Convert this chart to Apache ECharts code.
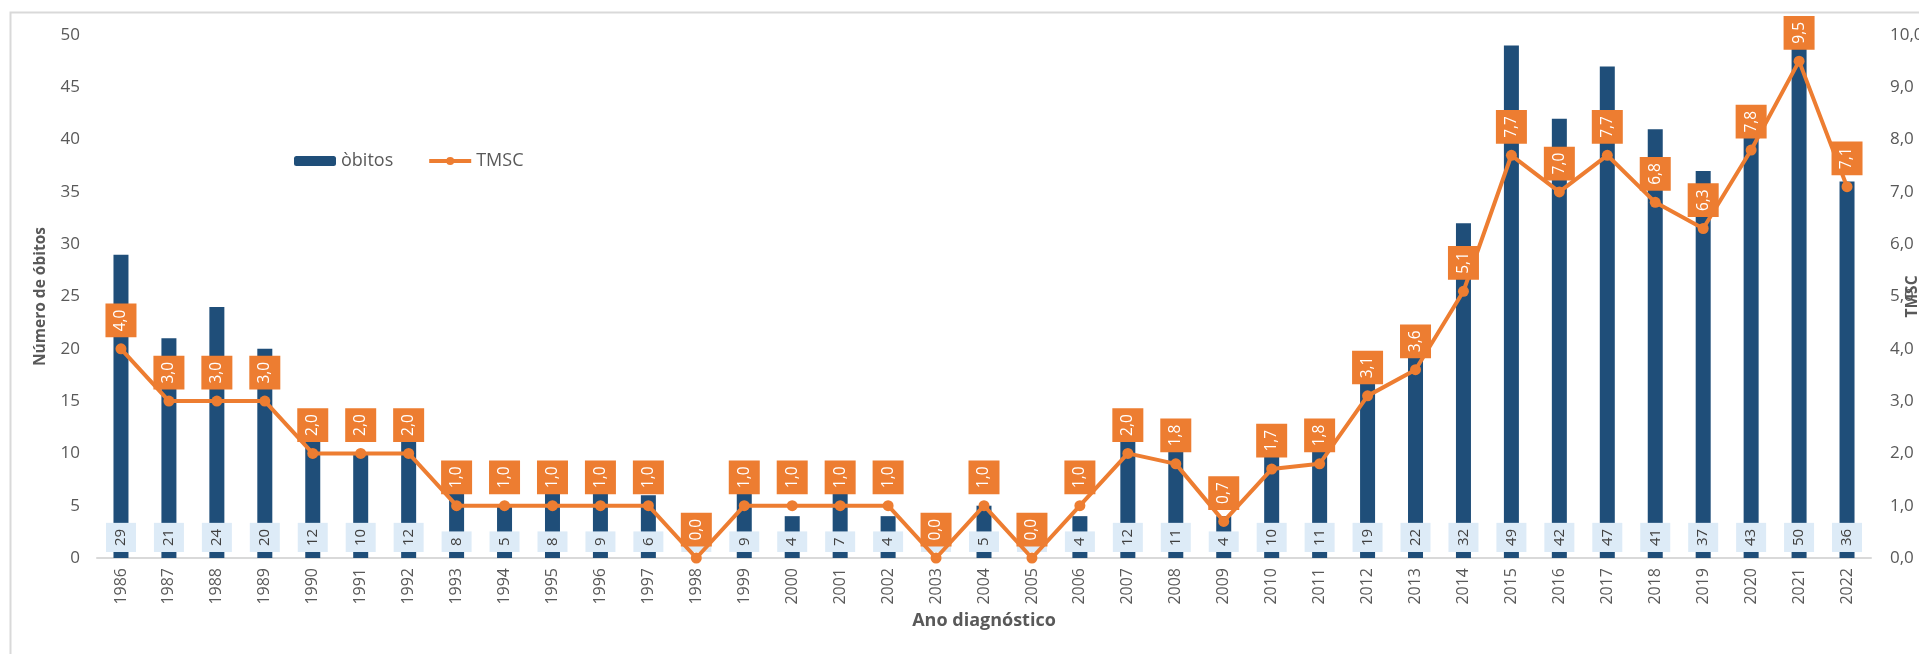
<!DOCTYPE html>
<html>
<head>
<meta charset="utf-8">
<script src="https://cdn.jsdelivr.net/npm/echarts@6/dist/echarts.min.js"></script>
<style>
html,body{margin:0;padding:0;background:#fff;overflow:hidden;}
#chart{width:1919px;height:654px;}
</style>
</head>
<body>
<div id="chart"></div>
<script>
const years = ['1986','1987','1988','1989','1990','1991','1992','1993','1994','1995','1996','1997','1998','1999','2000','2001','2002','2003','2004','2005','2006','2007','2008','2009','2010','2011','2012','2013','2014','2015','2016','2017','2018','2019','2020','2021','2022'];
const obitos = [29,21,24,20,12,10,12,8,5,8,9,6,0,9,4,7,4,0,5,0,4,12,11,4,10,11,19,22,32,49,42,47,41,37,43,50,36];
const tmsc = [4.0,3.0,3.0,3.0,2.0,2.0,2.0,1.0,1.0,1.0,1.0,1.0,0.0,1.0,1.0,1.0,1.0,0.0,1.0,0.0,1.0,2.0,1.8,0.7,1.7,1.8,3.1,3.6,5.1,7.7,7.0,7.7,6.8,6.3,7.8,9.5,7.1];
const leftTicks = {min:0, max:50, interval:5};
const rightTicks = {min:0, max:10, interval:1};

const FONT = '"Open Sans", "Noto Sans", sans-serif';
const fmt = v => Number(v).toFixed(1).replace('.', ',');

const chart = echarts.init(document.getElementById('chart'));
chart.setOption({
  backgroundColor: '#fff',
  animation: false,
  textStyle: {fontFamily: FONT},
  graphic: [{
    type: 'rect', left: 8, top: 10, z: -1,
    shape: {width: 2000, height: 1000},
    style: {fill: 'none', stroke: '#D9D9D9', lineWidth: 2}
  }],
  grid: {left: 97, right: 48, top: 35, bottom: 96, containLabel: false, outerBoundsMode: 'none'},
  legend: {
    left: 289, top: 147,
    itemWidth: 42, itemHeight: 10, itemGap: 34,
    lineStyle: {width: 4},
    textStyle: {color: '#595959', fontSize: 18, fontFamily: FONT},
    data: ['òbitos', 'TMSC']
  },
  xAxis: {
    type: 'category',
    data: years,
    name: 'Ano diagnóstico',
    nameLocation: 'middle',
    nameGap: 54,
    nameMoveOverlap: false,
    nameTextStyle: {fontSize: 18, fontWeight: 'bold', color: '#595959', fontFamily: FONT},
    axisLine: {lineStyle: {color: '#D9D9D9', width: 2}},
    axisTick: {show: false},
    axisLabel: {rotate: 90, fontSize: 16, color: '#595959', margin: 10, fontFamily: FONT}
  },
  yAxis: [{
    type: 'value',
    min: leftTicks.min, max: leftTicks.max, interval: leftTicks.interval,
    name: 'Número de óbitos',
    nameLocation: 'middle',
    nameGap: 48,
    nameMoveOverlap: false,
    nameTextStyle: {fontSize: 15.5, fontWeight: 'bold', color: '#595959', fontFamily: FONT},
    axisLine: {show: false}, axisTick: {show: false},
    splitLine: {show: false},
    axisLabel: {fontSize: 17, color: '#595959', margin: 17, fontFamily: FONT}
  }, {
    type: 'value',
    min: rightTicks.min, max: rightTicks.max, interval: rightTicks.interval,
    name: 'TMSC',
    nameLocation: 'middle',
    nameGap: 34,
    nameMoveOverlap: false,
    nameTextStyle: {fontSize: 15.5, fontWeight: 'bold', color: '#595959', fontFamily: FONT},
    axisLine: {show: false}, axisTick: {show: false},
    splitLine: {show: false},
    axisLabel: {fontSize: 17, color: '#595959', margin: 19, formatter: fmt, fontFamily: FONT}
  }],
  series: [{
    name: 'òbitos',
    type: 'bar',
    yAxisIndex: 0,
    data: obitos,
    barWidth: 15,
    z: 2,
    itemStyle: {color: '#1F4E79'},
    label: {
      show: true,
      position: 'insideBottom',
      distance: 6,
      rotate: 90,
      align: 'left',
      verticalAlign: 'middle',
      color: '#404040',
      fontSize: 15,
      fontFamily: FONT,
      lineHeight: 18,
      backgroundColor: '#DDEBF7',
      padding: [6, 6]
    }
  }, {
    name: 'TMSC',
    type: 'line',
    yAxisIndex: 1,
    data: tmsc,
    z: 5,
    symbol: 'circle',
    symbolSize: 11,
    lineStyle: {color: '#ED7D31', width: 4},
    itemStyle: {color: '#ED7D31'},
    label: {
      show: true,
      position: 'top',
      distance: 6,
      rotate: 90,
      align: 'left',
      verticalAlign: 'middle',
      color: '#fff',
      fontSize: 15.5,
      fontFamily: FONT,
      lineHeight: 19,
      backgroundColor: '#ED7D31',
      padding: [6, 6],
      formatter: p => fmt(p.value)
    }
  }]
});
</script>
</body>
</html>
